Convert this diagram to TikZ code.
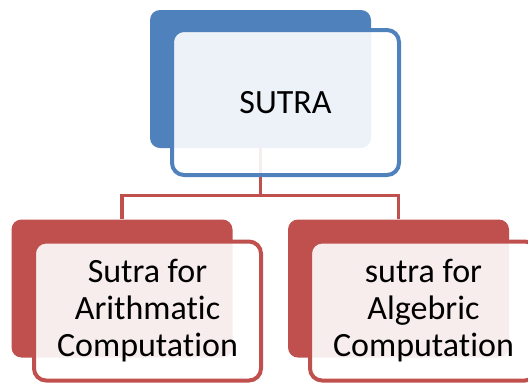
\documentclass[tikz,border=0pt]{standalone}
\usepackage{fontspec}
\setmainfont{Carlito}[Ligatures=NoCommon]
\usetikzlibrary{positioning}
\newlength\pxu
\setlength\pxu{0.75pt}
\definecolor{sutrablue}{HTML}{4F81BD}
\definecolor{sutrared}{HTML}{C0504D}

\begin{document}
\begin{tikzpicture}[
  x=0.75pt, y=-0.75pt,
  every node/.style={font=\fontsize{25.5}{27.75}\selectfont, align=center},
  backbox/.style={rounded corners=10\pxu, minimum width=221\pxu, minimum height=138\pxu, inner sep=0pt},
  frontbox/.style={rounded corners=12\pxu, line width=4\pxu, fill=white, fill opacity=0.9, text opacity=1, minimum width=227\pxu, minimum height=145\pxu, inner sep=0pt},
  link/.style={draw=sutrared, line width=3.5\pxu}
]
  \useasboundingbox (0,0) rectangle (528,383);
  \clip (0,0) rectangle (528,383);

  % back shapes
  \node[backbox, fill=sutrablue] (rootback) at (260.5,79) {};
  \node[backbox, fill=sutrared] (arithback) at (122,288.5) {};
  \node[backbox, fill=sutrared] (algback) at (398.5,288.5) {};

  % connectors
  \coordinate (split) at ([yshift=-47\pxu]rootback.south);
  \draw[link] (rootback.south) -- (split) -| (arithback.north);
  \draw[link] (split) -| (algback.north);

  % front shapes
  \node[frontbox, draw=sutrablue] (root) at (285.5,102.5) {SUTRA};
  \node[frontbox, draw=sutrared, minimum height=139\pxu] (arith) at (147.5,311) {Sutra for\\Arithmatic\\Computation};
  \node[frontbox, draw=sutrared, minimum height=139\pxu] (alg) at (423.5,311) {sutra for\\Algebric\\Computation};
\end{tikzpicture}
\end{document}
